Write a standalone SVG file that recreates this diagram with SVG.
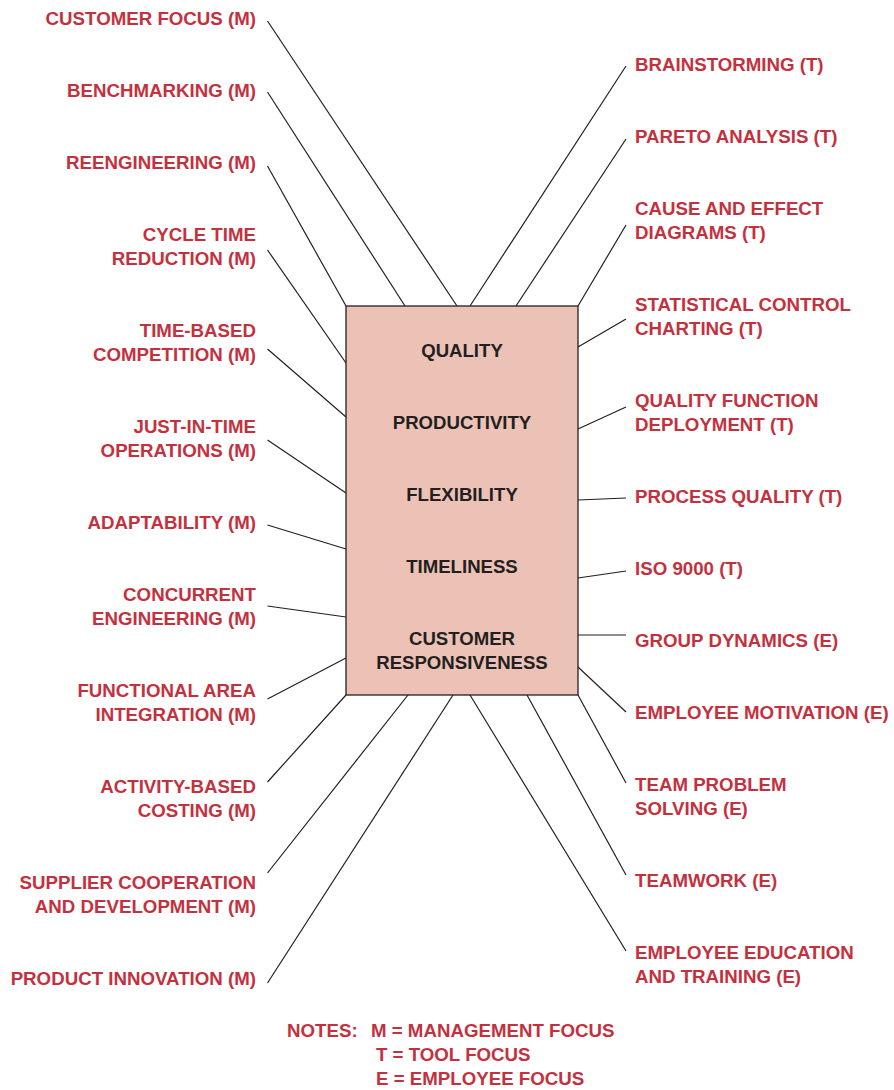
<svg xmlns="http://www.w3.org/2000/svg" width="894" height="1090" viewBox="0 0 894 1090">
<style>
.lbl{font-family:"Liberation Sans",Arial,sans-serif;font-weight:bold;font-size:18.7px;fill:#C4313E}
.l{text-anchor:end}
.c{font-family:"Liberation Sans",Arial,sans-serif;font-weight:bold;font-size:18.6px;fill:#231F20;text-anchor:middle}
.ln{stroke:#231F20;stroke-width:1.2;fill:none}
</style>
<rect width="894" height="1090" fill="#fff"/>
<g id="connectors" class="ln">
<line x1="267.5" y1="21" x2="457" y2="306"/>
<line x1="267.5" y1="92" x2="405" y2="306"/>
<line x1="267.5" y1="166" x2="346" y2="306"/>
<line x1="267.5" y1="250" x2="346" y2="363"/>
<line x1="267.5" y1="349" x2="346" y2="417"/>
<line x1="267.5" y1="440" x2="346" y2="493"/>
<line x1="267.5" y1="525" x2="346" y2="549"/>
<line x1="267.5" y1="606" x2="346" y2="617"/>
<line x1="267.5" y1="699" x2="346" y2="658"/>
<line x1="267.5" y1="782" x2="346" y2="695"/>
<line x1="267.5" y1="873" x2="408" y2="695"/>
<line x1="267.5" y1="983" x2="453" y2="695"/>
<line x1="626" y1="66" x2="470" y2="306"/>
<line x1="626" y1="139" x2="516" y2="306"/>
<line x1="626" y1="225" x2="578" y2="306"/>
<line x1="626" y1="319" x2="578" y2="347"/>
<line x1="626" y1="407" x2="578" y2="429"/>
<line x1="626" y1="498" x2="578" y2="500"/>
<line x1="626" y1="571" x2="578" y2="578"/>
<line x1="626" y1="635" x2="578" y2="635"/>
<line x1="626" y1="712" x2="578" y2="667"/>
<line x1="626" y1="783" x2="578" y2="695"/>
<line x1="626" y1="875" x2="527" y2="695"/>
<line x1="626" y1="951" x2="470" y2="695"/>
</g>
<g id="center">
<rect x="346" y="306" width="232" height="389" fill="#EBC2B5" stroke="#231F20" stroke-width="1.3"/>
<text class="c" x="462" y="357">QUALITY</text>
<text class="c" x="462" y="429">PRODUCTIVITY</text>
<text class="c" x="462" y="501">FLEXIBILITY</text>
<text class="c" x="462" y="573">TIMELINESS</text>
<text class="c" x="462" y="645">CUSTOMER</text>
<text class="c" x="462" y="669">RESPONSIVENESS</text>
</g>
<g id="m1"><text class="lbl l" x="256" y="25">CUSTOMER FOCUS (M)</text></g>
<g id="m2"><text class="lbl l" x="256" y="97">BENCHMARKING (M)</text></g>
<g id="m3"><text class="lbl l" x="256" y="169">REENGINEERING (M)</text></g>
<g id="m4"><text class="lbl l" x="256" y="241">CYCLE TIME</text><text class="lbl l" x="256" y="265">REDUCTION (M)</text></g>
<g id="m5"><text class="lbl l" x="256" y="337">TIME-BASED</text><text class="lbl l" x="256" y="361">COMPETITION (M)</text></g>
<g id="m6"><text class="lbl l" x="256" y="433">JUST-IN-TIME</text><text class="lbl l" x="256" y="457">OPERATIONS (M)</text></g>
<g id="m7"><text class="lbl l" x="256" y="529">ADAPTABILITY (M)</text></g>
<g id="m8"><text class="lbl l" x="256" y="601">CONCURRENT</text><text class="lbl l" x="256" y="625">ENGINEERING (M)</text></g>
<g id="m9"><text class="lbl l" x="256" y="697">FUNCTIONAL AREA</text><text class="lbl l" x="256" y="721">INTEGRATION (M)</text></g>
<g id="m10"><text class="lbl l" x="256" y="793">ACTIVITY-BASED</text><text class="lbl l" x="256" y="817">COSTING (M)</text></g>
<g id="m11"><text class="lbl l" x="256" y="889">SUPPLIER COOPERATION</text><text class="lbl l" x="256" y="913">AND DEVELOPMENT (M)</text></g>
<g id="m12"><text class="lbl l" x="256" y="985">PRODUCT INNOVATION (M)</text></g>
<g id="t1"><text class="lbl" x="635" y="71">BRAINSTORMING (T)</text></g>
<g id="t2"><text class="lbl" x="635" y="143">PARETO ANALYSIS (T)</text></g>
<g id="t3"><text class="lbl" x="635" y="215">CAUSE AND EFFECT</text><text class="lbl" x="635" y="239">DIAGRAMS (T)</text></g>
<g id="t4"><text class="lbl" x="635" y="311">STATISTICAL CONTROL</text><text class="lbl" x="635" y="335">CHARTING (T)</text></g>
<g id="t5"><text class="lbl" x="635" y="407">QUALITY FUNCTION</text><text class="lbl" x="635" y="431">DEPLOYMENT (T)</text></g>
<g id="t6"><text class="lbl" x="635" y="503">PROCESS QUALITY (T)</text></g>
<g id="t7"><text class="lbl" x="635" y="575">ISO 9000 (T)</text></g>
<g id="e1"><text class="lbl" x="635" y="647">GROUP DYNAMICS (E)</text></g>
<g id="e2"><text class="lbl" x="635" y="719">EMPLOYEE MOTIVATION (E)</text></g>
<g id="e3"><text class="lbl" x="635" y="791">TEAM PROBLEM</text><text class="lbl" x="635" y="815">SOLVING (E)</text></g>
<g id="e4"><text class="lbl" x="635" y="887">TEAMWORK (E)</text></g>
<g id="e5"><text class="lbl" x="635" y="959">EMPLOYEE EDUCATION</text><text class="lbl" x="635" y="983">AND TRAINING (E)</text></g>
<g id="notes">
<text class="lbl" x="287" y="1037">NOTES:</text>
<text class="lbl" x="371" y="1037">M = MANAGEMENT FOCUS</text>
<text class="lbl" x="376" y="1061">T = TOOL FOCUS</text>
<text class="lbl" x="376" y="1085">E = EMPLOYEE FOCUS</text>
</g>
</svg>
